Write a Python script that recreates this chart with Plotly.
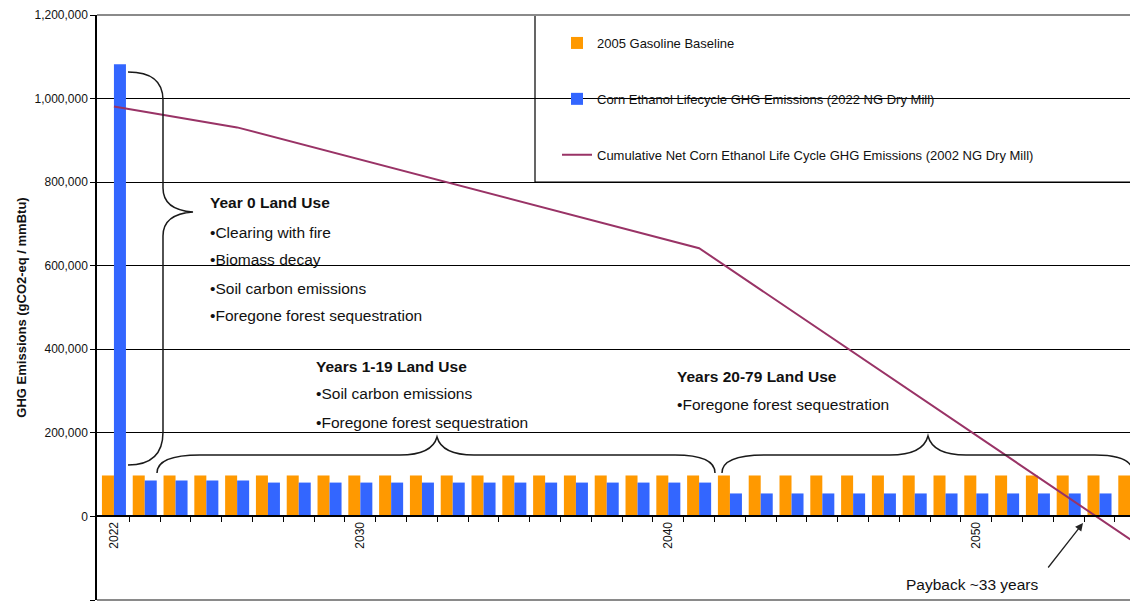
import plotly.graph_objects as go

# ---------------- data ----------------
years = list(range(2022, 2056))
gasoline_baseline = [98000] * 34
ethanol_emissions = ([1082000] + [86000] * 4 + [81000] * 15 + [55000] * 14)
cum_years = [2022, 2026, 2041, 2055]
cum_net = [981000, 931000, 642000, -55000]
tick_years = [2022, 2030, 2040, 2050]
y_ticks = [-200000, 0, 200000, 400000, 600000, 800000, 1000000, 1200000]

legend_names = [
    "2005 Gasoline Baseline",
    "Corn Ethanol Lifecycle GHG Emissions (2022 NG Dry Mill)",
    "Cumulative Net Corn Ethanol Life Cycle GHG Emissions (2002 NG Dry Mill)",
]

FONT = "Liberation Sans, Arial, sans-serif"
OFF = 8                      # browser body margin
SW, SH = 1138, 605           # screen size
L, R, T, B = 97, 1138, 15, 600   # plot area in screen pixels
W, H = SW - OFF, SH - OFF


def px(x):
    return (x - L) / (R - L)


def py(y):
    return (B - y) / (B - T)


def path(cmds):
    out = []
    for c in cmds:
        if isinstance(c, str):
            out.append(c)
        else:
            out.append(f"{px(c[0]):.5f},{py(c[1]):.5f}")
    return " ".join(out)


fig = go.Figure()
fig.add_trace(go.Bar(x=years, y=gasoline_baseline, name=legend_names[0],
                     marker=dict(color="#FF9900", line=dict(width=0)),
                     legendgroup="a"))
fig.add_trace(go.Bar(x=years, y=ethanol_emissions, name=legend_names[1],
                     marker=dict(color="#3366FF", line=dict(width=0)),
                     legendgroup="b"))
fig.add_trace(go.Scatter(x=cum_years, y=cum_net, name=legend_names[2],
                         mode="lines", line=dict(color="#993366", width=2),
                         legendgroup="c"))

shapes = []
# legend box
shapes.append(dict(type="rect", xref="paper", yref="paper",
                   x0=px(535), x1=1.01, y0=py(182), y1=1,
                   fillcolor="white", line=dict(color="black", width=1.2),
                   layer="between"))
# top & bottom borders (gray)
for yy in (0, 1):
    shapes.append(dict(type="line", xref="paper", yref="paper", x0=0, x1=1.01,
                       y0=yy, y1=yy, line=dict(color="#8a8a8a", width=2),
                       layer="above"))

brace_style = dict(color="#1a1a1a", width=1.5)
brace1 = path(["M", (128, 72), "Q", (163, 72), (163, 100), "L", (163, 188),
               "Q", (163, 210), (193, 212), "Q", (163, 214), (163, 236),
               "L", (163, 432), "Q", (163, 465), (128, 465)])
brace2 = path(["M", (157, 473), "Q", (157, 455), (200, 455), "L", (400, 455),
               "Q", (432, 455), (437, 437), "Q", (442, 455), (474, 455),
               "L", (675, 455), "Q", (715, 455), (715, 473)])
brace3 = path(["M", (722, 473), "Q", (722, 455), (765, 455), "L", (890, 455),
               "Q", (923, 455), (928, 436), "Q", (933, 455), (966, 455),
               "L", (1095, 455), "Q", (1133, 455), (1133, 473)])
for p in (brace1, brace2, brace3):
    shapes.append(dict(type="path", xref="paper", yref="paper", path=p,
                       line=brace_style, layer="above"))

annotations = []
text_blocks = [
    (208, [(203, "<b>Year 0 Land Use</b>"), (232, "•Clearing with fire"),
           (260, "•Biomass decay"), (288, "•Soil carbon emissions"),
           (316, "•Foregone forest sequestration")]),
    (314, [(366, "<b>Years 1-19 Land Use</b>"), (394, "•Soil carbon emissions"),
           (422, "•Foregone forest sequestration")]),
    (675, [(376, "<b>Years 20-79 Land Use</b>"),
           (404, "•Foregone forest sequestration")]),
]
for x0, lines in text_blocks:
    for yy, txt in lines:
        annotations.append(dict(xref="paper", yref="paper", x=px(x0), y=py(yy),
                                xanchor="left", yanchor="middle", text=txt,
                                showarrow=False,
                                font=dict(family=FONT, size=15.5, color="#111")))
annotations.append(dict(xref="paper", yref="paper", x=px(972), y=py(584),
                        xanchor="center", yanchor="middle",
                        text="Payback ~33 years", showarrow=False,
                        font=dict(family=FONT, size=15.5, color="#111")))
annotations.append(dict(xref="paper", yref="paper", x=px(1083), y=py(523),
                        text="", showarrow=True, ax=-36, ay=46,
                        arrowhead=2, arrowsize=1.2, arrowwidth=1.3,
                        arrowcolor="#222"))

fig.update_layout(
    width=W, height=H,
    template="none",
    paper_bgcolor="white", plot_bgcolor="white",
    margin=dict(l=L - OFF, r=0, t=T - OFF, b=H - (B - OFF), autoexpand=False),
    barmode="group", bargap=0.22, bargroupgap=0,
    font=dict(family=FONT, color="#111"),
    showlegend=True,
    legend=dict(x=px(557), y=py(28), xanchor="left", yanchor="top",
                bgcolor="rgba(0,0,0,0)", borderwidth=0,
                font=dict(family=FONT, size=13, color="#111"),
                tracegroupgap=36, traceorder="grouped", itemwidth=30),
    shapes=shapes,
    annotations=annotations,
)

fig.update_xaxes(
    range=[2021.45, 2055.25],
    tickmode="array", tickvals=tick_years, ticktext=[str(v) for v in tick_years],
    ticks="", tickangle=-90, tickfont=dict(family=FONT, size=12, color="#111"),
    showgrid=False, zeroline=False,
    showline=True, linecolor="black", linewidth=1.5,
    anchor="free", position=1 / 7,
    minor=dict(tickmode="array", tickvals=[y + 0.5 for y in years[:-1]],
               ticks="outside", ticklen=5, tickcolor="black", tickwidth=1.2,
               showgrid=False),
    automargin=False,
)
fig.update_yaxes(
    range=[-200000, 1200000],
    tickmode="array", tickvals=y_ticks,
    ticktext=[f"{v:,}" for v in y_ticks],
    ticks="outside", ticklen=5, tickcolor="black", tickwidth=1.2,
    tickfont=dict(family=FONT, size=12, color="#111"),
    showgrid=True, gridcolor="black", gridwidth=1,
    zeroline=False, showline=True, linecolor="black", linewidth=1.5,
    title=dict(text="<b>GHG Emissions (gCO2-eq / mmBtu)</b>",
               font=dict(family=FONT, size=13, color="#111"), standoff=5),
    automargin=False,
)

fig.write_html("out.html")
